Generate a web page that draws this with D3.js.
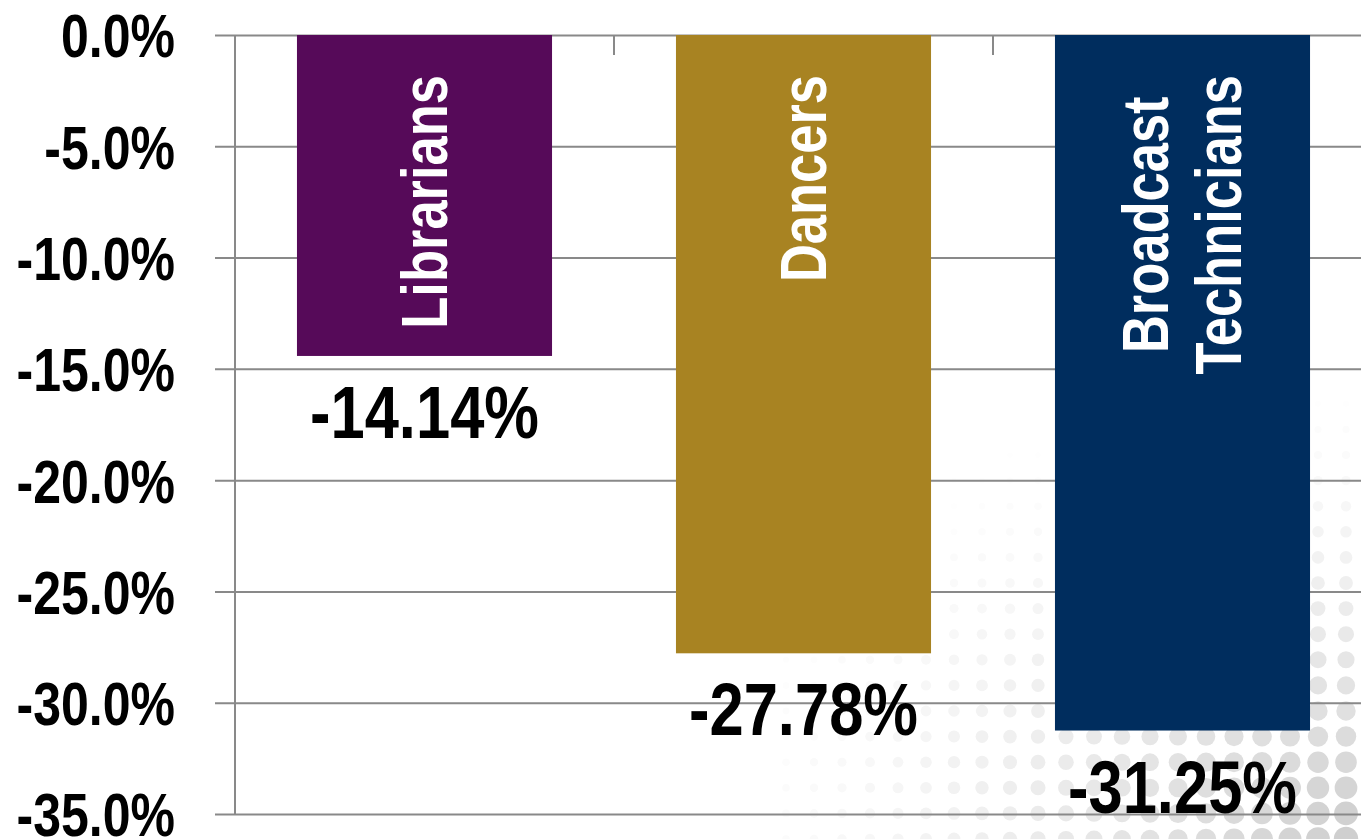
<!DOCTYPE html>
<html>
<head>
<meta charset="utf-8">
<script src="https://cdn.jsdelivr.net/npm/d3@7"></script>
<style>
  html, body { margin: 0; padding: 0; background: #fff; }
  svg { display: block; }
  text { font-family: "Liberation Sans", Arial, sans-serif; font-weight: bold; }
</style>
</head>
<body>
<div id="chart"></div>
<script>
// categories and values (bar length, label text as printed)
const categories = ["Librarians", "Dancers", "Broadcast Technicians"];
const categoryLines = [["Librarians"], ["Dancers"], ["Broadcast", "Technicians"]];
const values = [-14.42, -27.78, -31.25];
const valueLabels = ["-14.14%", "-27.78%", "-31.25%"];
const colors = ["#560a59", "#a88322", "#002d5e"];
const yTicks = [0, -5, -10, -15, -20, -25, -30, -35];

const width = 1361, height = 839;
const plot = { left: 235, right: 1372, top: 35, bottom: 814 };
const narrow = 0.82; // squeeze Liberation Sans to look like a narrow face

// plain hyphen for negatives, like the original
const fmt = d3.formatLocale({ decimal: ".", thousands: ",", grouping: [3], currency: ["", ""], minus: "-" }).format(".1f");

const svg = d3.select("#chart").append("svg")
    .attr("width", width)
    .attr("height", height);

// decorative dot pattern in the bottom right corner
const dots = [];
for (let cy = 839 - 25.6 * 17; cy < height + 15; cy += 25.6) {
    for (let cx = 1346; cx > 780; cx -= 28) {
        let dx = (1361 - cx) / 700, dy = (839 - cy) / 480;
        let t = 1 - Math.sqrt(dx * dx + dy * dy);
        if (t > 0.03) dots.push({ cx: cx, cy: cy, t: t });
    }
}
svg.append("g").selectAll("circle")
    .data(dots)
    .join("circle")
    .attr("cx", d => d.cx)
    .attr("cy", d => d.cy)
    .attr("r", d => 2 + 10.5 * d.t)
    .attr("fill", d => d3.interpolateRgb("#ffffff", "#cdcdcd")(Math.pow(d.t, 1.5)));

// scales
const x = d3.scaleBand()
    .domain(categories)
    .range([plot.left, plot.right])
    .paddingInner(0.327)
    .paddingOuter(0.1635);

const y = d3.scaleLinear()
    .domain([-35, 0])
    .range([plot.bottom, plot.top]);

// y axis with gridlines
const yAxis = svg.append("g")
    .attr("transform", "translate(" + plot.left + ",0)")
    .call(d3.axisLeft(y)
        .tickValues(yTicks)
        .tickSize(-(width - plot.left))
        .tickFormat(d => (d === 0 ? "0.0" : fmt(d)) + "%"));

yAxis.select(".domain").remove();
yAxis.selectAll(".tick line")
    .attr("x1", -20)
    .attr("stroke", "#898989")
    .attr("stroke-width", 2);
yAxis.selectAll(".tick text")
    .attr("x", -60 / narrow)
    .attr("dy", "0.36em")
    .attr("transform", "scale(" + narrow + ",1)")
    .attr("fill", "#000")
    .style("font-size", "61px");

// vertical axis line
svg.append("line")
    .attr("x1", plot.left).attr("x2", plot.left)
    .attr("y1", plot.top).attr("y2", plot.bottom)
    .attr("stroke", "#898989")
    .attr("stroke-width", 2);

// category ticks hanging from the zero line
const xAxis = svg.append("g")
    .attr("transform", "translate(0," + y(0) + ")")
    .call(d3.axisBottom(x).tickSize(0).tickFormat(""));
xAxis.select(".domain").remove();
xAxis.selectAll(".boundary")
    .data(categories.slice(1))
    .join("line")
    .attr("x1", d => x(d) - x.step() * x.paddingInner() / 2)
    .attr("x2", d => x(d) - x.step() * x.paddingInner() / 2)
    .attr("y1", 0).attr("y2", 20)
    .attr("stroke", "#898989")
    .attr("stroke-width", 2);

// bars
svg.append("g").selectAll("rect")
    .data(categories)
    .join("rect")
    .attr("x", d => x(d))
    .attr("width", x.bandwidth())
    .attr("y", y(0))
    .attr("height", (d, i) => y(values[i]) - y(0))
    .attr("fill", (d, i) => colors[i]);

// value labels under the bars
svg.append("g").selectAll("text")
    .data(categories)
    .join("text")
    .attr("transform", (d, i) => "translate(" + (x(d) + x.bandwidth() / 2) + "," +
        (y(values[i]) + 82) + ") scale(" + narrow + ",1)")
    .attr("text-anchor", "middle")
    .attr("fill", "#000")
    .style("font-size", "75px")
    .text((d, i) => valueLabels[i]);

// rotated category names inside the bars
const lineGap = 73, labelTop = 75;
categories.forEach(function(c, i) {
    const lines = categoryLines[i];
    const cx = x(c) + x.bandwidth() / 2;
    const g = svg.append("g");
    const texts = g.selectAll("text")
        .data(lines)
        .join("text")
        .attr("text-anchor", "middle")
        .attr("fill", "#fff")
        .attr("dy", "0.35em")
        .style("font-size", "64px")
        .text(d => d);
    let maxLen = d3.max(texts.nodes(), n => n.getComputedTextLength()) * narrow;
    const mid = labelTop + maxLen / 2;
    texts.attr("transform", (d, j) => {
        const off = (j - (lines.length - 1) / 2) * lineGap;
        return "translate(" + (cx + off) + "," + mid + ") rotate(-90) scale(" + narrow + ",1)";
    });
});
</script>
</body>
</html>
